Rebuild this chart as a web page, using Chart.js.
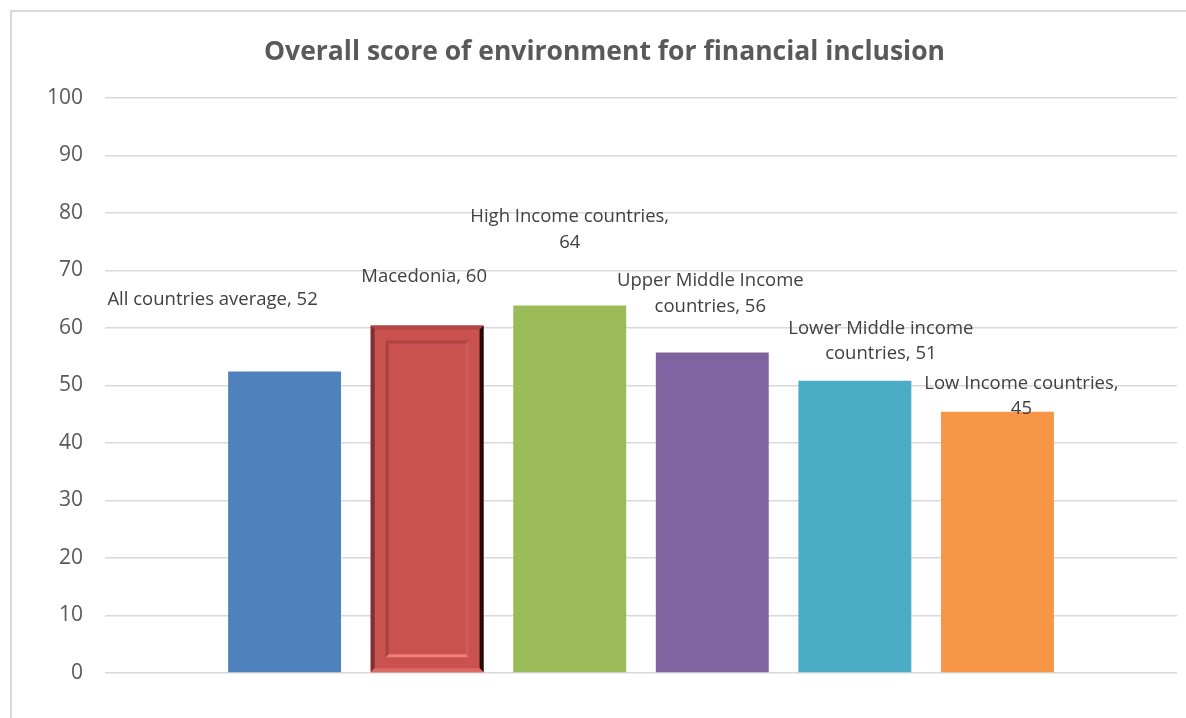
<!DOCTYPE html>
<html>
<head>
<meta charset="utf-8">
<script src="https://cdn.jsdelivr.net/npm/chart.js@4.4.1/dist/chart.umd.min.js"></script>
<style>
  html, body { margin: 0; padding: 0; background: #fff; }
  #wrap { position: relative; width: 1186px; height: 718px; overflow: hidden; }
  #frame { position: absolute; left: 10px; top: 10px; width: 1300px; height: 800px;
           border-left: 2px solid #d9d9d9; border-top: 2px solid #d9d9d9; pointer-events: none; }
</style>
</head>
<body>
<div id="wrap">
  <canvas id="chart" width="1186" height="718"></canvas>
  <div id="frame"></div>
</div>
<script>
// series as they appear in the source chart (one category, six series)
const seriesNames = ['All countries average', 'Macedonia', 'High Income countries',
    'Upper Middle Income countries', 'Lower Middle income countries', 'Low Income countries'];
const seriesValues = [52.4, 60.4, 63.9, 55.7, 50.8, 45.4];
const shownValues = [52, 60, 64, 56, 51, 45];
const labelLines = [
    ['All countries average, 52'],
    ['Macedonia, 60'],
    ['High Income countries,', '64'],
    ['Upper Middle Income', 'countries, 56'],
    ['Lower Middle income', 'countries, 51'],
    ['Low Income countries,', '45']
];
const seriesColors = ['#4f81bd', '#c9524f', '#9bbb59', '#8064a2', '#4bacc6', '#f79646'];
const yTicks = [0, 10, 20, 30, 40, 50, 60, 70, 80, 90, 100];

const FONT = "'Open Sans', 'Noto Sans', sans-serif";

// label nudges (dx from bar centre, gap from bar top to last line centre)
const labelNudge = [[-72, 72], [-3, 49], [0, 63], [-2, 46], [26, 27], [24, 3]];

const labelPlugin = {
    id: 'barLabels',
    afterDatasetsDraw(chart) {
        const { ctx } = chart;
        ctx.save();
        ctx.font = '18.5px ' + FONT;
        ctx.fillStyle = '#404040';
        ctx.textAlign = 'center';
        ctx.textBaseline = 'middle';
        chart.data.datasets.forEach((ds, i) => {
            const bar = chart.getDatasetMeta(i).data[0];
            const lines = labelLines[i];
            const cx = bar.x + labelNudge[i][0];
            const lastY = bar.y - labelNudge[i][1];
            lines.forEach((t, j) => {
                ctx.fillText(t, cx, lastY - (lines.length - 1 - j) * 25.5);
            });
        });
        ctx.restore();
    }
};

// bevelled look of the Macedonia bar
const bevelPlugin = {
    id: 'bevel',
    afterDatasetsDraw(chart) {
        const { ctx } = chart;
        const bar = chart.getDatasetMeta(1).data[0];
        const l = bar.x - bar.width / 2, r = bar.x + bar.width / 2;
        const t = bar.y, b = bar.base;
        const e = 4, ins = 15;
        ctx.save();
        // outer edges
        ctx.fillStyle = '#b24542';
        ctx.beginPath(); ctx.moveTo(l, t); ctx.lineTo(r, t); ctx.lineTo(r - e, t + e); ctx.lineTo(l + e, t + e); ctx.fill();
        ctx.fillStyle = '#7c3230';
        ctx.beginPath(); ctx.moveTo(l, t); ctx.lineTo(l + e, t + e); ctx.lineTo(l + e, b - e); ctx.lineTo(l, b); ctx.fill();
        ctx.fillStyle = '#220b0b';
        ctx.beginPath(); ctx.moveTo(r, t); ctx.lineTo(r, b); ctx.lineTo(r - e, b - e); ctx.lineTo(r - e, t + e); ctx.fill();
        ctx.fillStyle = '#dc6966';
        ctx.beginPath(); ctx.moveTo(l, b); ctx.lineTo(l + e, b - e); ctx.lineTo(r - e, b - e); ctx.lineTo(r, b); ctx.fill();
        // inner panel
        const il = l + ins, ir = r - ins, it = t + ins, ib = b - ins;
        const ie = 3;
        ctx.fillStyle = '#ac4341';
        ctx.beginPath(); ctx.moveTo(il, it); ctx.lineTo(ir, it); ctx.lineTo(ir - ie, it + ie); ctx.lineTo(il + ie, it + ie); ctx.fill();
        ctx.fillStyle = '#a8423f';
        ctx.beginPath(); ctx.moveTo(il, it); ctx.lineTo(il + ie, it + ie); ctx.lineTo(il + ie, ib - ie); ctx.lineTo(il, ib); ctx.fill();
        ctx.fillStyle = '#cf5c59';
        ctx.beginPath(); ctx.moveTo(ir, it); ctx.lineTo(ir, ib); ctx.lineTo(ir - ie, ib - ie); ctx.lineTo(ir - ie, it + ie); ctx.fill();
        ctx.fillStyle = '#f07d7a';
        ctx.beginPath(); ctx.moveTo(il, ib); ctx.lineTo(il + ie, ib - ie); ctx.lineTo(ir - ie, ib - ie); ctx.lineTo(ir, ib); ctx.fill();
        ctx.restore();
    }
};

new Chart(document.getElementById('chart').getContext('2d'), {
    type: 'bar',
    data: {
        labels: [''],
        datasets: seriesNames.map((name, i) => ({
            label: name,
            data: [seriesValues[i]],
            backgroundColor: seriesColors[i],
            borderWidth: 0,
            categoryPercentage: 0.798,
            barPercentage: 0.792
        }))
    },
    options: {
        responsive: false,
        animation: false,
        layout: { padding: { left: 32, right: 9, top: 0, bottom: 45 } },
        plugins: {
            legend: { display: false },
            tooltip: { enabled: false },
            title: {
                display: true,
                text: 'Overall score of environment for financial inclusion',
                color: '#595959',
                font: { family: FONT, size: 26.5, weight: 'bold' },
                padding: { top: 37, bottom: 29 }
            }
        },
        scales: {
            x: { display: false },
            y: {
                min: 0, max: 100,
                afterFit(scale) { scale.width = 73; },
                afterBuildTicks(scale) { scale.ticks = yTicks.map(v => ({ value: v })); },
                grid: { color: '#d9d9d9', lineWidth: 1.5, drawTicks: false },
                border: { display: false },
                ticks: { color: '#595959', font: { family: FONT, size: 21 }, padding: 22 }
            }
        }
    },
    plugins: [labelPlugin, bevelPlugin]
});
</script>
</body>
</html>
